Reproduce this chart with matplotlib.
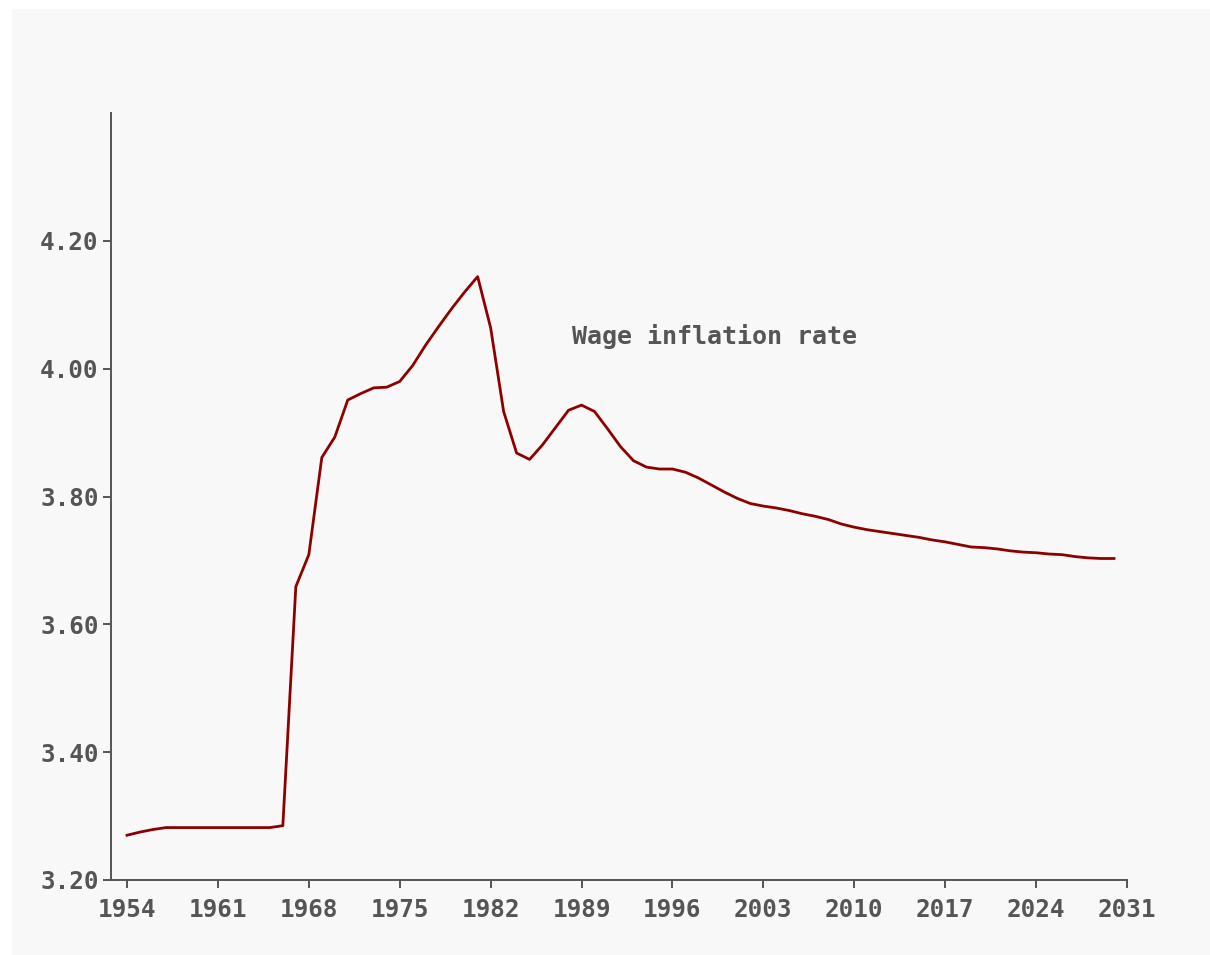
import numpy as np
import matplotlib
matplotlib.use("Agg")
import matplotlib.pyplot as plt
from matplotlib.patches import Rectangle

# annual values
years = np.arange(1954, 2031)
wage_inflation = [
    3.270, 3.275, 3.279, 3.282, 3.282, 3.282, 3.282, 3.282, 3.282, 3.282,  # 1954-1963
    3.282, 3.282, 3.285, 3.659, 3.709, 3.861, 3.893, 3.951, 3.961, 3.970,  # 1964-1973
    3.971, 3.980, 4.005, 4.037, 4.066, 4.094, 4.120, 4.144, 4.064, 3.933,  # 1974-1983
    3.868, 3.858, 3.881, 3.908, 3.935, 3.943, 3.933, 3.906, 3.878, 3.856,  # 1984-1993
    3.846, 3.843, 3.843, 3.838, 3.829, 3.818, 3.807, 3.797, 3.789, 3.785,  # 1994-2003
    3.782, 3.778, 3.773, 3.769, 3.764, 3.757, 3.752, 3.748, 3.745, 3.742,  # 2004-2013
    3.739, 3.736, 3.732, 3.729, 3.725, 3.721, 3.720, 3.718, 3.715, 3.713,  # 2014-2023
    3.712, 3.710, 3.709, 3.706, 3.704, 3.703, 3.703,                       # 2024-2030
]
x_ticks = [1954, 1961, 1968, 1975, 1982, 1989, 1996, 2003, 2010, 2017, 2024, 2031]
y_ticks = [3.20, 3.40, 3.60, 3.80, 4.00, 4.20]
label = "Wage inflation rate"

W, H = 1210, 955
txt_col = "#555555"
bg = "#f8f8f8"

fig = plt.figure(figsize=(W / 100, H / 100), dpi=100)
fig.patch.set_facecolor("white")
# light grey panel, inset from the top/left edge
fig.patches.append(Rectangle((12 / W, 0), 1 - 12 / W, 1 - 9 / H,
                             transform=fig.transFigure, facecolor=bg,
                             edgecolor="none", zorder=-1))

ax = fig.add_axes([111 / W, 1 - 880 / H, (1127 - 111) / W, (880 - 113) / H])
ax.set_facecolor(bg)
ax.plot(years, wage_inflation, color="#8e0000", lw=2.0)

ax.set_xlim(1954 - 16 / 12.987, 2031)
ax.set_ylim(3.2, 4.4)
ax.set_xticks(x_ticks)
ax.set_yticks(y_ticks)
ax.set_yticklabels([f"{v:.2f}" for v in y_ticks])

for s in ["top", "right"]:
    ax.spines[s].set_visible(False)
for s in ["left", "bottom"]:
    ax.spines[s].set_color(txt_col)
    ax.spines[s].set_linewidth(1.4)

ax.tick_params(colors=txt_col, length=6, width=1.4)
ax.tick_params(axis="x", pad=7)
ax.tick_params(axis="y", pad=3)
for t in ax.get_xticklabels() + ax.get_yticklabels():
    t.set_fontfamily("DejaVu Sans Mono")
    t.set_fontsize(17.5)
    t.set_fontweight("bold")
    t.set_color(txt_col)

ax.text(1988.27, 4.051, label, ha="left", va="center",
        fontfamily="DejaVu Sans Mono", fontsize=18, fontweight="bold",
        color=txt_col)

fig.savefig("out.png", dpi=100, facecolor=fig.get_facecolor())
